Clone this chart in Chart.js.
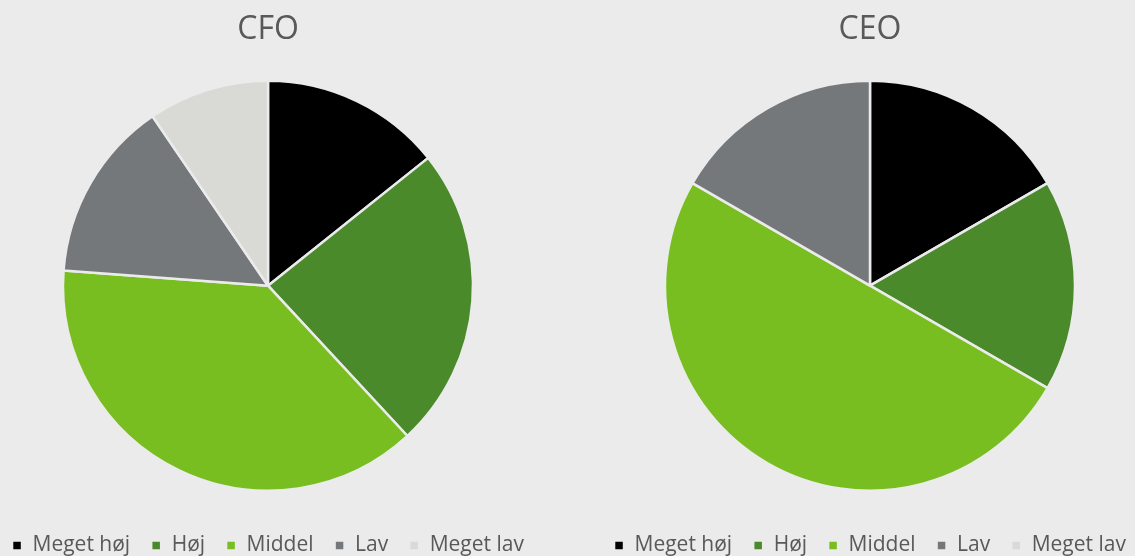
<!DOCTYPE html>
<html>
<head>
<meta charset="utf-8">
<script src="https://cdn.jsdelivr.net/npm/chart.js@4/dist/chart.umd.min.js"></script>
<style>
  html, body { margin: 0; padding: 0; background: #ebebeb; }
  body { width: 1135px; height: 556px; position: relative; overflow: hidden; }
  .box { position: absolute; top: 0; height: 566px; width: 572px; }
  #box-cfo { left: -18px; }
  #box-ceo { left: 584px; }
</style>
</head>
<body>
<div class="box" id="box-cfo"><canvas id="chart-cfo"></canvas></div>
<div class="box" id="box-ceo"><canvas id="chart-ceo"></canvas></div>
<script>
const categories = ['Meget høj', 'Høj', 'Middel', 'Lav', 'Meget lav'];
const cfoValues = [3, 5, 8, 3, 2];
const ceoValues = [1, 1, 3, 1, 0];
const sliceColors = ['#000000', '#4a8a2b', '#78be21', '#75787b', '#d9d9d6'];

const textColor = '#595959';
const fontFamily = "'Open Sans', 'Noto Sans', sans-serif";

function makePie(canvasId, title, values) {
  new Chart(document.getElementById(canvasId).getContext('2d'), {
    type: 'pie',
    data: {
      labels: categories,
      datasets: [{
        data: values,
        backgroundColor: sliceColors,
        borderColor: '#ebebeb',
        borderWidth: 2.5,
        radius: 205
      }]
    },
    options: {
      responsive: true,
      maintainAspectRatio: false,
      animation: false,
      layout: { padding: 0 },
      plugins: {
        title: {
          display: true,
          text: title,
          color: textColor,
          font: { family: fontFamily, size: 32, weight: 'normal' },
          padding: { top: 11, bottom: 8 }
        },
        legend: {
          display: true,
          position: 'bottom',
          labels: {
            color: textColor,
            font: { family: fontFamily, size: 21 },
            boxWidth: 10,
            boxHeight: 10,
            padding: 21
          }
        },
        tooltip: { enabled: false }
      }
    }
  });
}

makePie('chart-cfo', 'CFO', cfoValues);
makePie('chart-ceo', 'CEO', ceoValues);
</script>
</body>
</html>
